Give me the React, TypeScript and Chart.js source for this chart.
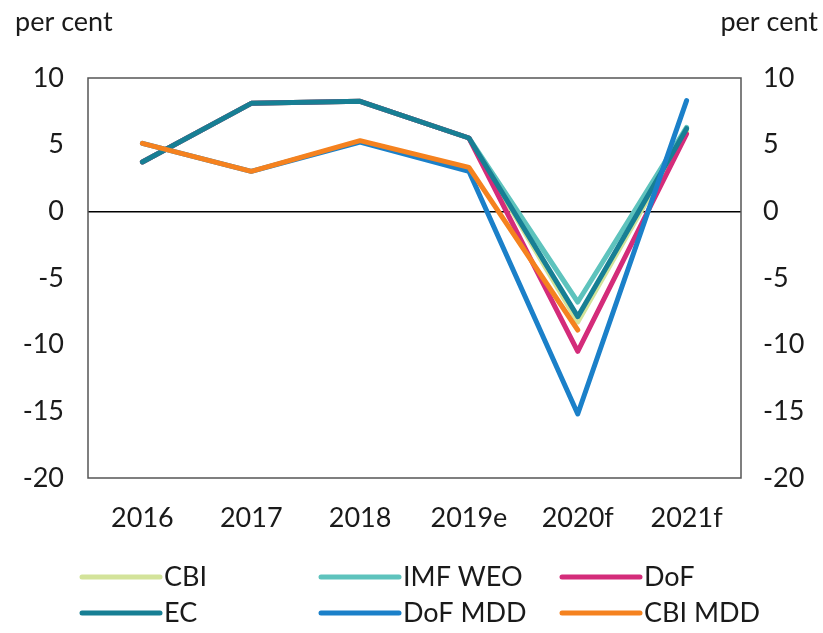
import React, { useEffect, useRef } from "react";
import { Chart, registerables } from "chart.js";

Chart.register(...registerables);

const categories = ["2016", "2017", "2018", "2019e", "2020f", "2021f"];
const cbi = [3.7, 8.1, 8.25, 5.5, -8.3, 6.0];
const imfWeo = [3.7, 8.1, 8.25, 5.5, -6.8, 6.3];
const dof = [3.7, 8.1, 8.25, 5.5, -10.5, 5.8];
const ec = [3.7, 8.1, 8.25, 5.5, -7.9, 6.2];
const dofMdd = [5.1, 3.0, 5.2, 3.0, -15.2, 8.3];
const cbiMdd: (number | null)[] = [5.1, 3.0, 5.3, 3.3, -8.9, null];
const yTicks = [-20, -15, -10, -5, 0, 5, 10];
const unitLabel = "per cent";

const FONT = "Lato, 'Open Sans', sans-serif";
const TEXT = "#1a1a1a";
const FS = 27;

const seriesDefs = [
  { label: "CBI", data: cbi, color: "#d3e39a", order: 6 },
  { label: "IMF WEO", data: imfWeo, color: "#5ec3bd", order: 5 },
  { label: "DoF", data: dof, color: "#d42c7a", order: 4 },
  { label: "EC", data: ec, color: "#177f94", order: 3 },
  { label: "DoF MDD", data: dofMdd, color: "#1b80c9", order: 2 },
  { label: "CBI MDD", data: cbiMdd, color: "#f5821f", order: 1 },
];

const decorPlugin = {
  id: "decor",
  beforeDatasetsDraw(chart: any) {
    const { ctx, chartArea } = chart;
    ctx.save();
    ctx.strokeStyle = "#555555";
    ctx.lineWidth = 1.5;
    ctx.strokeRect(chartArea.left, chartArea.top, chartArea.right - chartArea.left, chartArea.bottom - chartArea.top);
    ctx.restore();
  },
  afterDraw(chart: any) {
    const { ctx } = chart;
    ctx.save();
    ctx.fillStyle = TEXT;
    ctx.font = `${FS}px ${FONT}`;
    ctx.textBaseline = "middle";
    ctx.textAlign = "left";
    ctx.fillText(unitLabel, 15, 22);
    ctx.textAlign = "right";
    ctx.fillText(unitLabel, 818, 22);

    // legend: 3 columns x 2 rows
    const colX = [82, 321, 562];
    const rowY = [577, 613];
    const lineLen = 78;
    chart.data.datasets.forEach((ds: any, i: number) => {
      const c = i % 3;
      const r = Math.floor(i / 3);
      const x = colX[c];
      const y = rowY[r];
      ctx.strokeStyle = ds.borderColor;
      ctx.lineWidth = 5;
      ctx.lineCap = "round";
      ctx.beginPath();
      ctx.moveTo(x, y);
      ctx.lineTo(x + lineLen, y);
      ctx.stroke();
      ctx.fillStyle = TEXT;
      ctx.textAlign = "left";
      ctx.textBaseline = "middle";
      ctx.font = `${FS}px ${FONT}`;
      ctx.fillText(ds.label, x + lineLen + 4, y);
    });
    ctx.restore();
  },
};

export default function App() {
  const ref = useRef<HTMLCanvasElement>(null);
  useEffect(() => {
    if (!ref.current) return;
    const chart = new Chart(ref.current, {
      type: "line",
      data: {
        labels: categories,
        datasets: seriesDefs.map((s) => ({
          label: s.label,
          data: s.data,
          borderColor: s.color,
          backgroundColor: s.color,
          borderWidth: 5,
          pointRadius: 0,
          tension: 0,
          fill: false,
          order: s.order,
          borderCapStyle: "round",
          borderJoinStyle: "round",
          yAxisID: "y",
        })),
      },
      options: {
        animation: false,
        responsive: false,
        maintainAspectRatio: false,
        layout: { padding: { top: 78, left: 0, right: 0, bottom: 95 } },
        plugins: { legend: { display: false }, tooltip: { enabled: false } },
        scales: {
          x: {
            offset: true,
            grid: { display: false, drawTicks: false },
            border: { display: false },
            ticks: { padding: 24, color: TEXT, font: { family: FONT, size: FS }, maxRotation: 0 },
            afterFit: (s: any) => { s.height = 60; },
          },
          y: {
            position: "left",
            min: -20,
            max: 10,
            afterBuildTicks: (s: any) => { s.ticks = yTicks.map((v) => ({ value: v })); },
            grid: {
              drawTicks: false,
              color: (c: any) => (c.tick && c.tick.value === 0 ? "#000000" : "rgba(0,0,0,0)"),
              lineWidth: 1.5,
            },
            border: { display: false },
            ticks: { padding: 24, color: TEXT, font: { family: FONT, size: FS } },
            afterFit: (s: any) => { s.width = 88; },
          },
          y1: {
            position: "right",
            min: -20,
            max: 10,
            afterBuildTicks: (s: any) => { s.ticks = yTicks.map((v) => ({ value: v })); },
            grid: { display: false, drawTicks: false },
            border: { display: false },
            ticks: { padding: 22, color: TEXT, font: { family: FONT, size: FS } },
            afterFit: (s: any) => { s.width = 82; },
          },
        },
      } as any,
      plugins: [decorPlugin],
    });
    return () => chart.destroy();
  }, []);
  return (
    <div style={{ position: "fixed", left: 0, top: 0, width: 823, height: 633, background: "#fff" }}>
      <canvas ref={ref} width={823} height={633} style={{ width: 823, height: 633 }} />
    </div>
  );
}
